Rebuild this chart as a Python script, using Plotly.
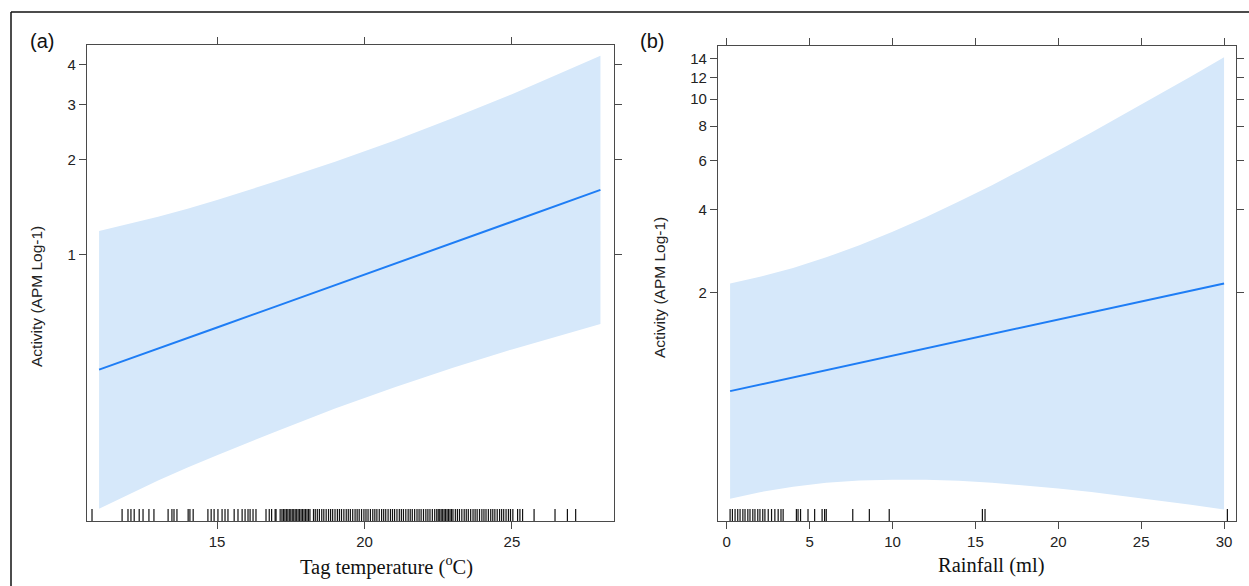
import plotly.graph_objects as go

W, H = 1249, 586

# ---------------- Panel (a): Tag temperature ----------------
temp_x = [11, 12, 13, 14, 15, 17, 19, 21, 23, 25, 27, 28]
temp_fit = [0.433, 0.467, 0.505, 0.545, 0.589, 0.687, 0.802, 0.936, 1.091, 1.274, 1.486, 1.607]
temp_upper = [1.191, 1.252, 1.321, 1.401, 1.493, 1.710, 1.972, 2.301, 2.716, 3.228, 3.890, 4.276]
temp_lower = [0.157, 0.174, 0.193, 0.212, 0.232, 0.276, 0.326, 0.380, 0.439, 0.502, 0.568, 0.604]

temp_rug = [
    10.76, 11.78, 11.98, 12.08, 12.19, 12.36, 12.49, 12.69, 12.86, 13.34, 13.47, 13.54, 13.64,
    14.02, 14.08, 14.19, 14.69, 14.80, 14.90, 15.03, 15.17, 15.27, 15.37, 15.58, 15.71, 15.85,
    15.95, 16.05, 16.12, 16.22, 16.32, 16.66, 16.77, 16.85, 16.97, 17.00, 17.14,
    17.20, 17.25, 17.30, 17.35, 17.40, 17.45, 17.50, 17.55, 17.60, 17.65, 17.70, 17.75, 17.80,
    17.85, 17.90, 17.95, 18.00, 18.05, 18.10, 18.15,
    18.27, 18.33, 18.40, 18.47, 18.55, 18.62, 18.70, 18.78, 18.85, 18.92, 19.00, 19.08, 19.15,
    19.22, 19.30, 19.38, 19.45, 19.52, 19.60, 19.68, 19.75, 19.82, 19.90, 19.98, 20.05, 20.12,
    20.20, 20.28, 20.35, 20.42, 20.50, 20.58, 20.65, 20.72, 20.80, 20.88, 20.95, 21.02, 21.10,
    21.18, 21.25, 21.32, 21.40, 21.48, 21.55, 21.62, 21.70, 21.78, 21.85, 21.92, 22.00, 22.08,
    22.15, 22.22, 22.30, 22.38, 22.45, 22.50, 22.55, 22.60, 22.65, 22.70, 22.75, 22.80, 22.85,
    22.90, 22.95, 23.00, 23.08, 23.15, 23.22, 23.30, 23.38, 23.45, 23.52, 23.60, 23.68, 23.75,
    23.82, 23.90, 23.98, 24.05, 24.12, 24.20, 24.28, 24.35, 24.42, 24.50, 24.58, 24.65, 24.72,
    24.80, 24.88, 24.95, 25.03,
    25.19, 25.27, 25.36, 25.75, 26.46, 26.88, 27.16,
]
temp_xticks = [15, 20, 25]
temp_yticks = [1, 2, 3, 4]

# ---------------- Panel (b): Rainfall ----------------
rain_x = [0.2, 2, 4, 6, 8, 10, 12, 14, 16, 18, 20, 22, 24, 26, 28, 30]
rain_fit = [0.883, 0.932, 0.990, 1.051, 1.116, 1.186, 1.259, 1.337, 1.420, 1.508,
            1.601, 1.700, 1.806, 1.918, 2.036, 2.162]
rain_upper = [2.161, 2.283, 2.459, 2.685, 2.971, 3.322, 3.751, 4.269, 4.892, 5.634,
              6.522, 7.573, 8.825, 10.31, 12.07, 14.16]
rain_lower = [0.361, 0.381, 0.399, 0.412, 0.420, 0.423, 0.423, 0.419, 0.412, 0.403,
              0.393, 0.382, 0.369, 0.357, 0.343, 0.330]

rain_rug = [
    0.2, 0.34, 0.5, 0.66, 0.8, 0.97, 1.1, 1.27, 1.4, 1.57, 1.7, 1.87, 2.0, 2.17, 2.3, 2.5,
    2.7, 2.9, 3.1, 3.27, 3.4, 4.2, 4.3, 4.45, 4.9, 5.3, 5.75, 5.9, 6.0, 7.6, 8.6, 9.8,
    15.42, 15.58, 30.2,
]
rain_xticks = [0, 5, 10, 15, 20, 25, 30]
rain_yticks = [2, 4, 6, 8, 10, 12, 14]

# ---------------- styling ----------------
BAND = "rgb(214,232,250)"
LINE = "rgb(30,125,245)"
FRAME = "#4a4a4a"
SANS = "Liberation Sans, Arial, sans-serif"
SERIF = "Liberation Serif, Times New Roman, serif"

def px_x(p):
    return p / W

def px_y(p):
    return (H - p) / H

fig = go.Figure()

def add_panel(xs, fit, up, lo, rug, xa, ya, ya_rug):
    fig.add_trace(go.Scatter(x=xs, y=lo, mode="lines", line=dict(width=0, color=BAND),
                             xaxis=xa, yaxis=ya, showlegend=False, hoverinfo="skip"))
    fig.add_trace(go.Scatter(x=xs, y=up, mode="lines", line=dict(width=0, color=BAND),
                             fill="tonexty", fillcolor=BAND,
                             xaxis=xa, yaxis=ya, showlegend=False, hoverinfo="skip"))
    fig.add_trace(go.Scatter(x=xs, y=fit, mode="lines", line=dict(width=2, color=LINE),
                             xaxis=xa, yaxis=ya, showlegend=False))
    fig.add_trace(go.Scatter(x=rug, y=[0.0105] * len(rug), mode="markers",
                             marker=dict(symbol="line-ns", size=10,
                                         line=dict(width=1.2, color="#111")),
                             xaxis=xa, yaxis=ya_rug, showlegend=False, hoverinfo="x"))

add_panel(temp_x, temp_fit, temp_upper, temp_lower, temp_rug, "x", "y", "y3")
add_panel(rain_x, rain_fit, rain_upper, rain_lower, rain_rug, "x2", "y2", "y4")

axis_common = dict(showline=True, linecolor=FRAME, linewidth=1.2, mirror="ticks",
                   ticks="outside", ticklen=7, tickwidth=1.2, tickcolor=FRAME,
                   showgrid=False, zeroline=False,
                   tickfont=dict(family=SANS, size=15, color="#222"))

dom_a_x = [px_x(87), px_x(614)]
dom_b_x = [px_x(718), px_x(1236)]
dom_y = [px_y(521), px_y(45)]
dom_y_b = [px_y(521), px_y(46)]

fig.update_layout(
    width=W, height=H,
    margin=dict(l=0, r=0, t=0, b=0),
    paper_bgcolor="white", plot_bgcolor="white",
    xaxis=dict(domain=dom_a_x, range=[10.59, 28.46], tickvals=temp_xticks,
               anchor="y", **axis_common),
    yaxis=dict(domain=dom_y, type="log", range=[-0.843, 0.665], tickvals=temp_yticks,
               ticktext=[str(v) for v in temp_yticks], anchor="x", **axis_common),
    xaxis2=dict(domain=dom_b_x, range=[-0.53, 30.72], tickvals=rain_xticks,
                anchor="y2", **axis_common),
    yaxis2=dict(domain=dom_y_b, type="log", range=[-0.523, 1.192], tickvals=rain_yticks,
                ticktext=[str(v) for v in rain_yticks], anchor="x2", **axis_common),
    yaxis3=dict(overlaying="y", anchor="x", range=[0, 1], visible=False, fixedrange=True),
    yaxis4=dict(overlaying="y2", anchor="x2", range=[0, 1], visible=False, fixedrange=True),
    hovermode="closest",
)

def ann(text, xp, yp, size, family, angle=0, color="#111"):
    return dict(text=text, x=px_x(xp), y=px_y(yp), xref="paper", yref="paper",
                xanchor="center", yanchor="middle", textangle=angle, showarrow=False,
                font=dict(family=family, size=size, color=color))

annotations = [
    ann("(a)", 42, 41, 20, SANS),
    ann("(b)", 652, 41, 20, SANS),
    ann("Activity (APM Log-1)", 36, 297, 15.5, SANS, angle=-90, color="#222"),
    ann("Activity (APM Log-1)", 659, 288, 15.5, SANS, angle=-90, color="#222"),
    ann("Tag temperature (<sup>o</sup>C)", 386, 565, 20.5, SERIF),
    ann("Rainfall (ml)", 991, 565, 20.5, SERIF),
]
fig.update_layout(annotations=annotations)

fig.update_layout(shapes=[
    dict(type="line", xref="paper", yref="paper", x0=px_x(11), x1=1.01,
         y0=px_y(12), y1=px_y(12), line=dict(color="#111", width=1.5)),
    dict(type="line", xref="paper", yref="paper", x0=px_x(11), x1=px_x(11),
         y0=px_y(12), y1=-0.01, line=dict(color="#111", width=1.5)),
])

fig.write_html("out.html", config={"displayModeBar": False},
               post_script="document.body.style.margin='0px';document.body.style.padding='0px';")
